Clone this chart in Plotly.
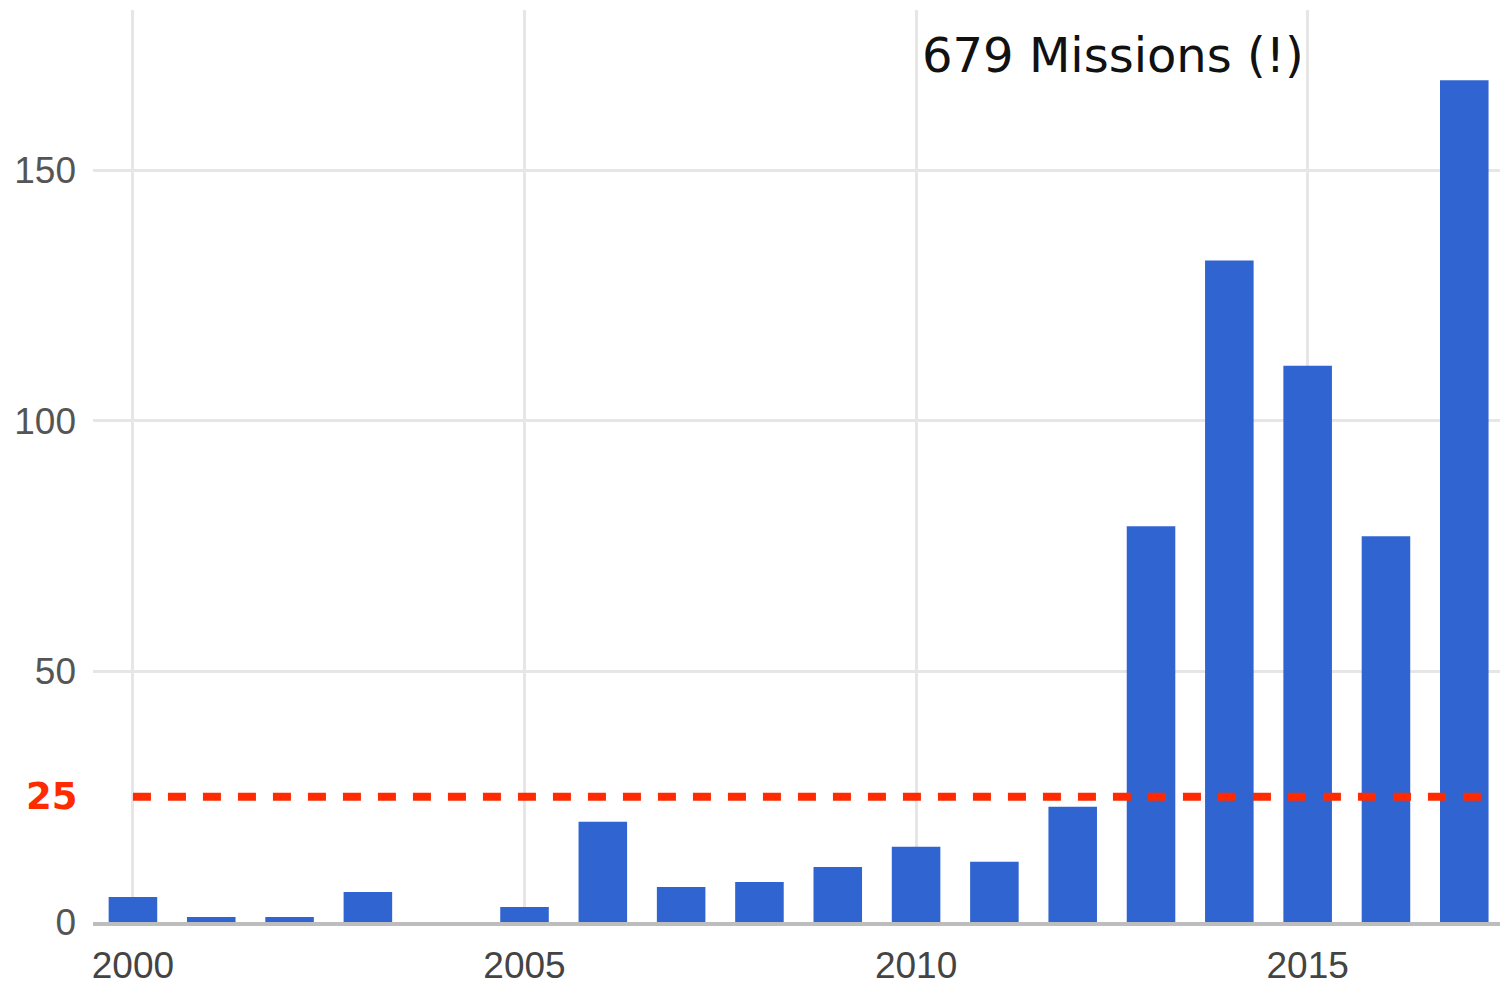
import plotly.graph_objects as go

years = list(range(2000, 2018))
missions = [5, 1, 1, 6, 0, 3, 20, 7, 8, 11, 15, 12, 23, 79, 132, 111, 77, 168]
threshold = 25
x_ticks = [2000, 2005, 2010, 2015]
y_ticks = [0, 50, 100, 150]
note = "679 Missions (!)"

fig = go.Figure()
fig.add_trace(go.Bar(
    x=years, y=missions, width=0.62,
    marker=dict(color="#3064d0", line=dict(width=0)),
))
fig.add_trace(go.Scatter(
    x=[2000, 2017.42], y=[threshold, threshold], mode="lines",
    line=dict(color="#ff2a00", width=8, dash="18px,17px"),
    hoverinfo="skip",
))
fig.add_annotation(
    x=2010.05, y=173, xref="x", yref="y", text=note, showarrow=False,
    xanchor="left", yanchor="middle",
    font=dict(family="DejaVu Sans", size=48, color="#111111"),
)
fig.add_annotation(
    x=0, y=threshold, xref="paper", yref="y", text="<b>25</b>", showarrow=False,
    xanchor="right", yanchor="middle", xshift=-13,
    font=dict(family="DejaVu Sans", size=37, color="#ff2a00"),
)
fig.update_layout(
    width=1508, height=987,
    margin=dict(l=85, r=11, t=2, b=73),
    plot_bgcolor="white", paper_bgcolor="white",
    showlegend=False,
    xaxis=dict(
        range=[1999.49, 2017.52], tickvals=x_ticks, ticktext=[str(v) for v in x_ticks],
        showgrid=True, gridcolor="#e6e6e6", gridwidth=3,
        showline=True, linecolor="#bdbdbd", linewidth=4,
        ticks="", ticklen=0, ticklabelstandoff=8,
        tickfont=dict(family="Liberation Sans, Arial", size=37, color="#444444"),
        zeroline=False,
    ),
    yaxis=dict(
        range=[0, 182], tickvals=y_ticks,
        showgrid=True, gridcolor="#e6e6e6", gridwidth=3,
        zeroline=False, showline=False, ticks="",
        ticklabelstandoff=16,
        tickfont=dict(family="Liberation Sans, Arial", size=37, color="#555555"),
    ),
)
fig.write_html("out.html")
